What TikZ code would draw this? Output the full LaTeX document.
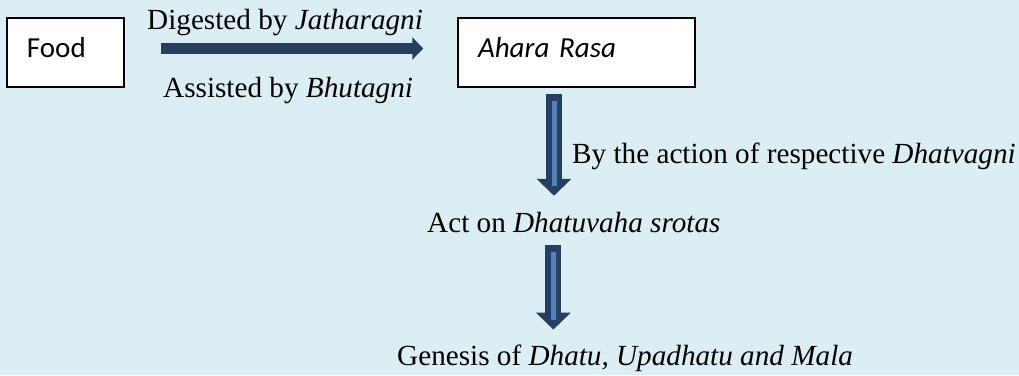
\documentclass[tikz,border=0pt]{standalone}
\usepackage{fontspec}
\setmainfont{Liberation Serif}
\newfontfamily\boxfont{Carlito}
\usetikzlibrary{arrows.meta}

\definecolor{backblue}{HTML}{DAEEF3}
\definecolor{arrowdark}{HTML}{263F61}
\definecolor{stripeblue}{HTML}{4F81BD}

\begin{document}
\begin{tikzpicture} [x = 1pt, y = -1pt,
  box/.style = {draw, fill = white, line width = 1.5pt, minimum height = 69pt,
    inner xsep = 20pt, align = left, text height = 20pt, text depth = 11pt,
    font = \boxfont\fontsize{29}{32}\selectfont},
  label/.style = {inner sep = 0pt, anchor = base west, font = \fontsize{29.2}{32}\selectfont},
  flatarrow/.style = {line width = 11pt, draw = arrowdark, -{Triangle[length = 11pt, width = 22pt]}},
  bigarrow/.style = {line width = 16pt, draw = arrowdark, -{Triangle[length = 17pt, width = 34pt]},
    postaction = {draw = stripeblue, line width = 5pt, -, shorten <= 7pt, shorten >= 10pt}}]
\fill[backblue] (0, 0) rectangle (1019, 375);
\useasboundingbox (0, 0) rectangle (1019, 375);
\node[box, text width = 77pt] (food) at (65.5, 52.5){Food};
\node[box, text width = 197pt] (ahara) at (576.5, 52.5){\itshape Ahara Rasa};
\node[label] (digested) at (147, 29){Digested by \textit{Jatharagni}};
\node[label] (assisted) at (163, 97){Assisted by \textit{Bhutagni}};
\node[label] (action) at (572, 163){By the action of respective \textit{Dhatvagni}};
\node[label] (act) at (427, 232){Act on \textit{Dhatuvaha srotas}};
\node[label] (genesis) at (397, 365){Genesis of \textit{Dhatu, Upadhatu and Mala}};
\draw[flatarrow] ([shift = {(36, -4)}]food.east) -- ([shift = {(-34, -4)}]ahara.west);
\draw[bigarrow] ([shift = {(-22.5, 6)}]ahara.south) -- ++(0, 102);
\draw[bigarrow] ([shift = {(-20.5, 12)}]act.south) -- ++(0, 85);
\end{tikzpicture}
\end{document}
